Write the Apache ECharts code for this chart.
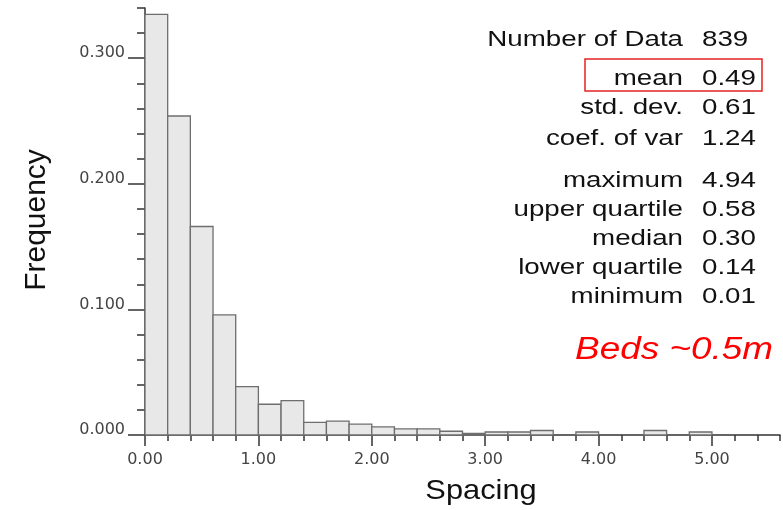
<!DOCTYPE html>
<html>
<head>
<meta charset="utf-8">
<style>
  html, body { margin: 0; padding: 0; background: #fff; }
  #chart { width: 783px; height: 510px; }
</style>
<script src="https://cdn.jsdelivr.net/npm/echarts@6/dist/echarts.min.js"></script>
</head>
<body>
<div id="chart"></div>
<script>
// Histogram of bed spacing (class width 0.2)
const binEdges = [0.0, 0.2, 0.4, 0.6, 0.8, 1.0, 1.2, 1.4, 1.6, 1.8, 2.0, 2.2, 2.4,
                  2.6, 2.8, 3.0, 3.2, 3.4, 3.6, 3.8, 4.0, 4.2, 4.4, 4.6, 4.8, 5.0];
const frequency = [0.335, 0.254, 0.166, 0.0956, 0.0385, 0.0245, 0.0274, 0.0101,
                   0.0111, 0.0086, 0.0064, 0.0048, 0.0048, 0.0030, 0.0012, 0.0024,
                   0.0024, 0.0036, 0, 0.0024, 0, 0, 0.0036, 0, 0.0024];

const xLabelValues = [0, 1, 2, 3, 4, 5];
const yLabelValues = [0, 0.1, 0.2, 0.3];

const statNames = ['Number of Data', 'mean', 'std. dev.', 'coef. of var',
                   'maximum', 'upper quartile', 'median', 'lower quartile', 'minimum'];
const statValues = ['839', '0.49', '0.61', '1.24', '4.94', '0.58', '0.30', '0.14', '0.01'];
const statRowY = [39.5, 78.5, 107.5, 138.5, 181, 210, 239, 268, 297];

const xMin = 0, xMax = 5.6, xStep = 0.2;
const yMin = 0, yMax = 0.34, yStep = 0.02;

const bins = frequency.map((f, i) => [binEdges[i], binEdges[i + 1], f]);

const axisColor = '#333';
const tickFont = { fontFamily: 'DejaVu Sans', fontSize: 16, color: '#444' };
const textFont = 'Liberation Sans';

const statGraphics = [];
statNames.forEach((name, i) => {
  statGraphics.push({
    type: 'text', x: 683, y: statRowY[i], scaleX: 1.26,
    style: { text: name, x: 0, y: 0, textAlign: 'right', textVerticalAlign: 'middle',
             font: '22px "' + textFont + '"', fill: '#111' }
  });
  statGraphics.push({
    type: 'text', x: 702, y: statRowY[i], scaleX: 1.26,
    style: { text: statValues[i], x: 0, y: 0, textAlign: 'left', textVerticalAlign: 'middle',
             font: '22px "' + textFont + '"', fill: '#111' }
  });
});

const chart = echarts.init(document.getElementById('chart'), null, { renderer: 'canvas' });

chart.setOption({
  animation: false,
  backgroundColor: '#fff',
  grid: {
    left: 145, right: 3, top: 8, bottom: 75,
    containLabel: false, outerBoundsMode: 'none'
  },
  xAxis: [
    {
      type: 'value', min: xMin, max: xMax, interval: xStep,
      splitLine: { show: false },
      axisLine: { show: true, onZero: false, lineStyle: { color: axisColor, width: 1.5 } },
      axisTick: { show: true, length: 6, lineStyle: { color: axisColor, width: 1.5 } },
      axisLabel: {
        show: true, margin: 17, customValues: xLabelValues,
        formatter: v => v.toFixed(2), ...tickFont
      }
    },
    {
      type: 'value', min: xMin, max: xMax, interval: xStep, position: 'bottom',
      splitLine: { show: false },
      axisLine: { show: false },
      axisTick: { show: true, length: 11, customValues: xLabelValues,
                  lineStyle: { color: axisColor, width: 1.5 } },
      axisLabel: { show: false }
    }
  ],
  yAxis: [
    {
      type: 'value', min: yMin, max: yMax, interval: yStep,
      splitLine: { show: false },
      axisLine: { show: true, onZero: false, lineStyle: { color: axisColor, width: 1.5 } },
      axisTick: { show: true, length: 8, lineStyle: { color: axisColor, width: 1.5 } },
      axisLabel: {
        show: true, margin: 20, customValues: yLabelValues,
        formatter: v => v.toFixed(3), verticalAlign: 'bottom', lineHeight: 10, ...tickFont
      }
    },
    {
      type: 'value', min: yMin, max: yMax, interval: yStep, position: 'left',
      splitLine: { show: false },
      axisLine: { show: false },
      axisTick: { show: true, length: 17, customValues: yLabelValues,
                  lineStyle: { color: axisColor, width: 1.5 } },
      axisLabel: { show: false }
    }
  ],
  series: [{
    type: 'custom',
    xAxisIndex: 0, yAxisIndex: 0,
    encode: { x: [0, 1], y: 2 },
    data: bins,
    z: 1,
    renderItem(params, api) {
      const x0 = api.value(0), x1 = api.value(1), f = api.value(2);
      if (!f) return null;
      const topLeft = api.coord([x0, f]);
      const bottomRight = api.coord([x1, 0]);
      return {
        type: 'rect',
        shape: {
          x: topLeft[0], y: topLeft[1],
          width: bottomRight[0] - topLeft[0],
          height: bottomRight[1] - topLeft[1]
        },
        style: { fill: '#e8e8e8', stroke: '#6e6e6e', lineWidth: 1.3 }
      };
    }
  }],
  graphic: [
    {
      type: 'text', x: 37, y: 220, rotation: Math.PI / 2,
      style: { text: 'Frequency', x: 0, y: 0, textAlign: 'center', textVerticalAlign: 'middle',
               font: '30px "' + textFont + '"', fill: '#111' }
    },
    {
      type: 'text', x: 481, y: 491, scaleX: 1.1,
      style: { text: 'Spacing', x: 0, y: 0, textAlign: 'center', textVerticalAlign: 'middle',
               font: '28px "' + textFont + '"', fill: '#111' }
    },
    {
      type: 'rect',
      shape: { x: 585, y: 59, width: 177, height: 32 },
      style: { fill: 'none', stroke: '#e52222', lineWidth: 1.5 }
    },
    {
      type: 'text', x: 773, y: 350, scaleX: 1.19,
      style: { text: 'Beds ~0.5m', x: 0, y: 0, textAlign: 'right', textVerticalAlign: 'middle',
               font: 'italic 31px "' + textFont + '"', fill: '#ff0000' }
    },
    ...statGraphics
  ]
});
</script>
</body>
</html>
